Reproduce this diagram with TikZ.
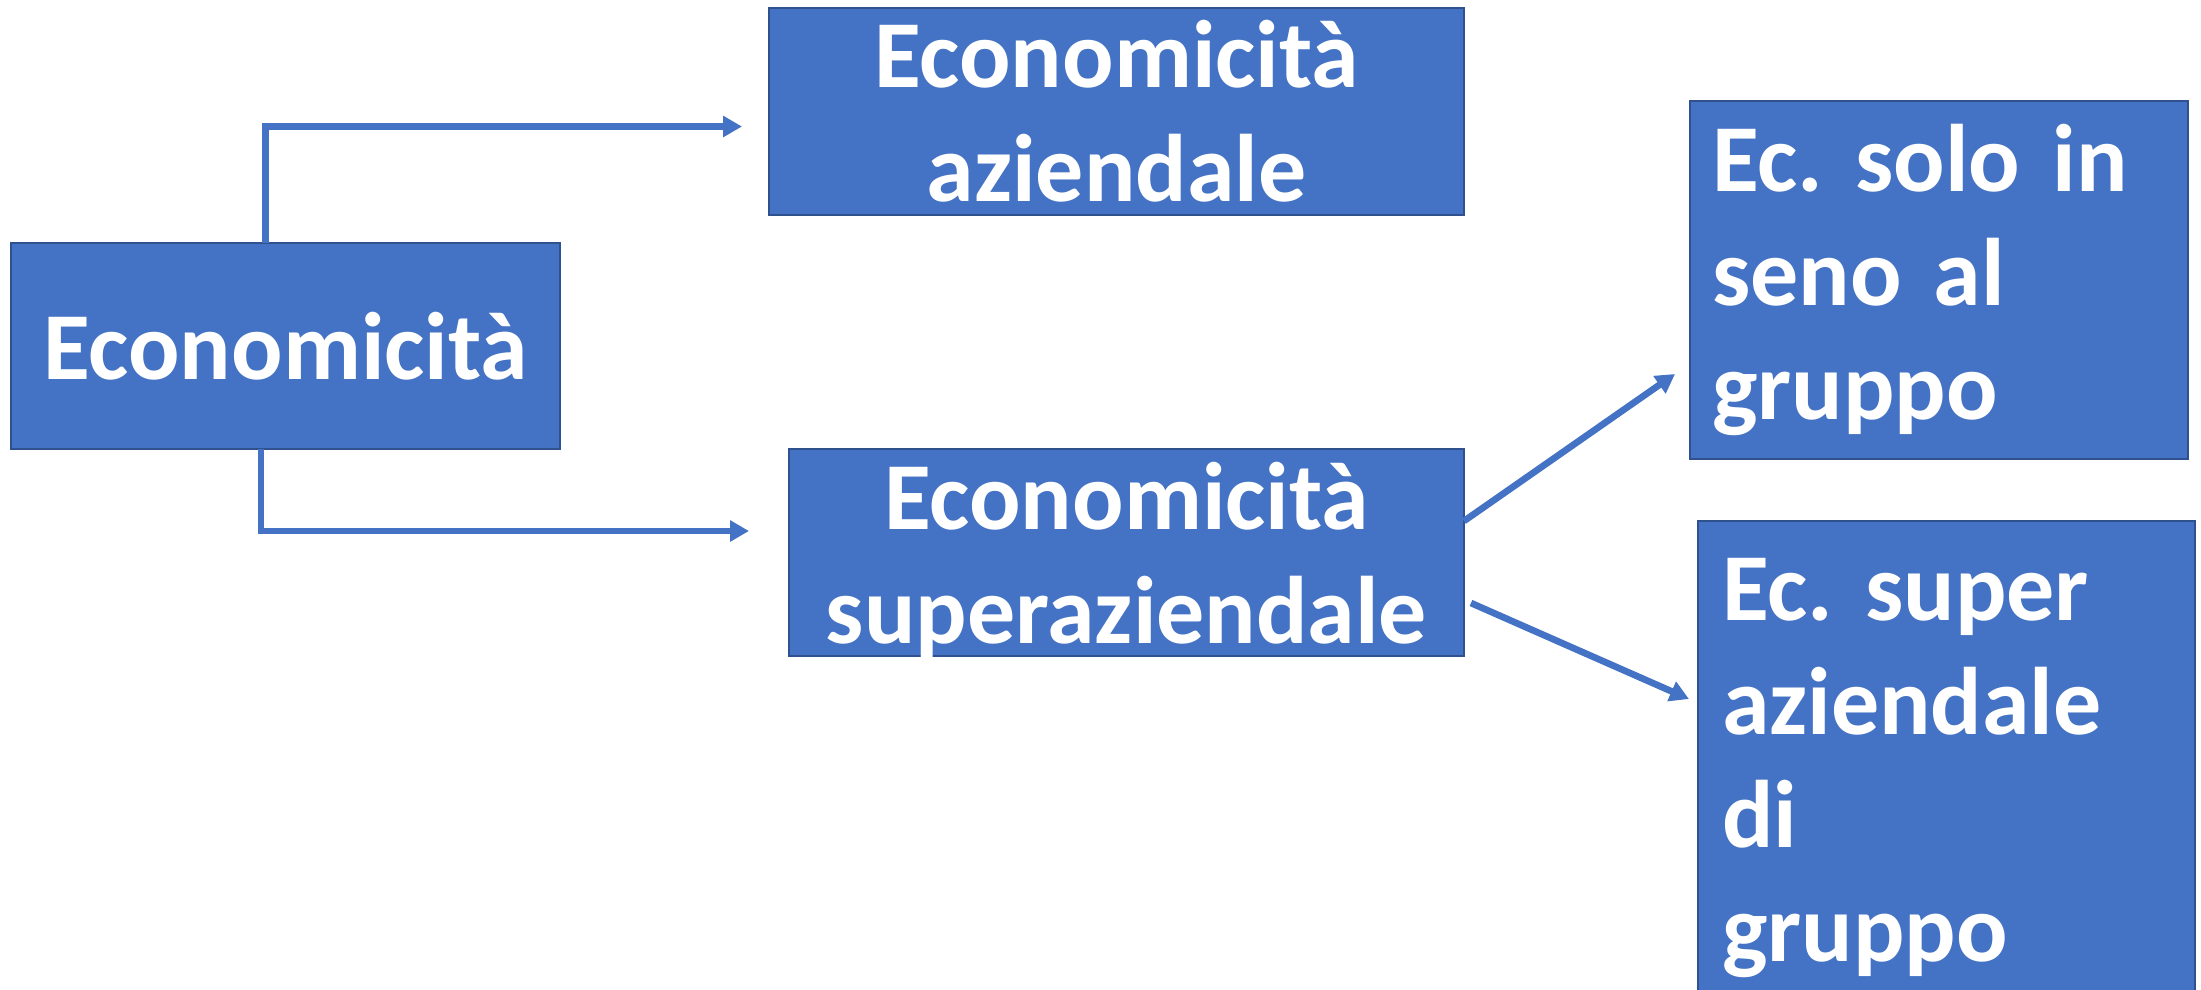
\documentclass[tikz,border=0pt]{standalone}
\usepackage{fontspec}
\setmainfont{Carlito}
\usetikzlibrary{arrows.meta,calc}
\definecolor{boxblue}{HTML}{4472C4}
\definecolor{boxedge}{HTML}{2F528F}
\frenchspacing
\tikzset{
  blk/.style={draw=boxedge, line width=0.8pt, fill=boxblue, text=white,
    font=\fontsize{27.3}{32.4}\selectfont\bfseries, inner sep=0pt, outer sep=0pt},
  ctr/.style={blk, align=center},
  lft/.style={blk, align=left},
  conn/.style={draw=boxblue, line width=1.9pt, -{Triangle[length=5.4pt,width=5.8pt]}}
}
\begin{document}
\begin{tikzpicture}[x=1cm,y=1cm]
\useasboundingbox (0,0) rectangle (22.01,-9.89);
% boxes (1 px = 0.01 cm)
\node[ctr, minimum width=5.49cm, minimum height=2.06cm] (eco) at (2.855,-3.46) {Economicità};
\node[ctr, minimum width=6.95cm, minimum height=2.07cm] (az) at (11.165,-1.115) {Economicità\\aziendale};
\node[ctr, minimum width=6.75cm, minimum height=2.07cm, text depth=0pt] (sup) at (11.265,-5.525) {Economicità\\superaziendale};
\node[lft, minimum width=4.98cm, minimum height=3.58cm, text width=4.54cm] (solo) at (19.39,-2.80) {Ec. solo in\\seno al\\gruppo};
\node[lft, minimum width=4.97cm, minimum height=4.94cm, text width=4.49cm] (supg) at (19.465,-7.68) {Ec. super\\aziendale\\di\\gruppo};
% connector end points
\coordinate (e1) at (7.42,-1.265);
\coordinate (e2) at (7.49,-5.31);
\coordinate (e3) at (16.75,-3.74);
\coordinate (e4) at (16.89,-6.99);
% connectors
\draw[conn] ([xshift=-0.20cm]eco.north) |- (e1);
\draw[conn] ([xshift=-0.245cm]eco.south) |- (e2);
\draw[conn] ($(sup.east)+(0,0.315)$) -- (e3);
\draw[conn] ($(sup.east)+(0.07,-0.505)$) -- (e4);
\end{tikzpicture}
\end{document}
